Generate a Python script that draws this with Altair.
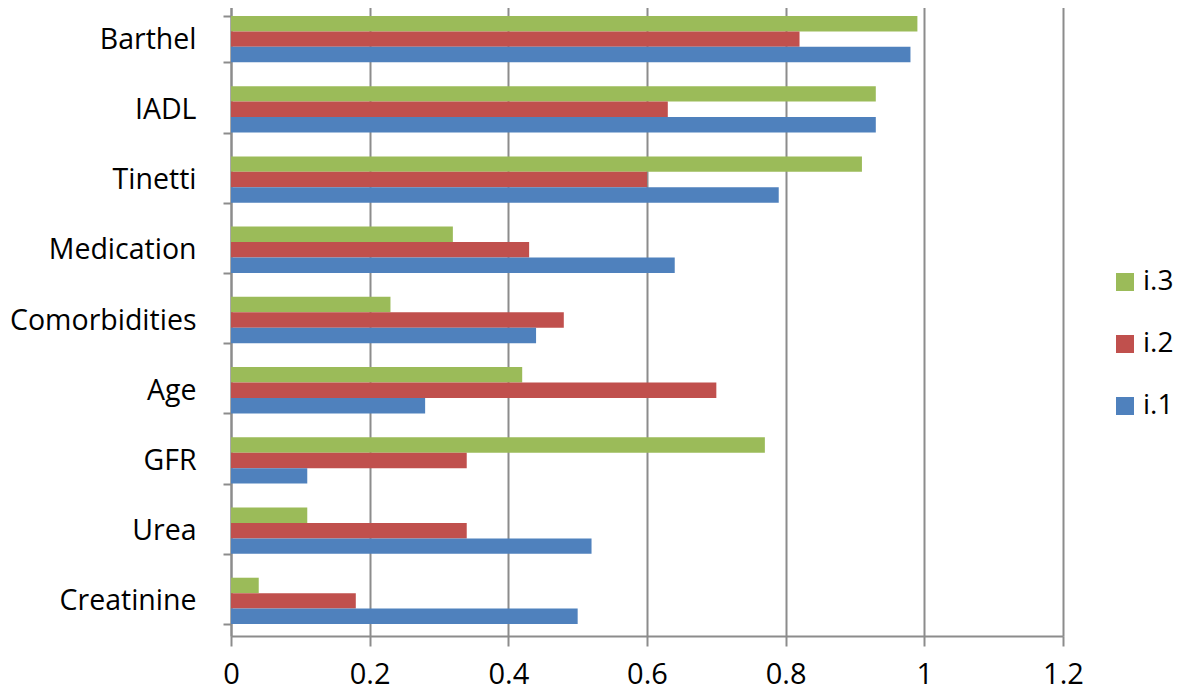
import altair as alt
import pandas as pd

categories = ["Barthel", "IADL", "Tinetti", "Medication", "Comorbidities",
              "Age", "GFR", "Urea", "Creatinine"]
series_names = ["i.3", "i.2", "i.1"]
i3 = [0.99, 0.93, 0.91, 0.32, 0.23, 0.42, 0.77, 0.11, 0.04]
i2 = [0.82, 0.63, 0.60, 0.43, 0.48, 0.70, 0.34, 0.34, 0.18]
i1 = [0.98, 0.93, 0.79, 0.64, 0.44, 0.28, 0.11, 0.52, 0.50]
colors = ["#9BBB59", "#C0504D", "#4F81BD"]
x_ticks = [0, 0.2, 0.4, 0.6, 0.8, 1, 1.2]

rows = []
for name, vals in zip(series_names, [i3, i2, i1]):
    for c, v in zip(categories, vals):
        rows.append({"cat": c, "series": name, "value": v})
df = pd.DataFrame(rows)

FONT = "Open Sans"
GRID = "#8c8c8c"

chart = alt.Chart(df).mark_bar().encode(
    x=alt.X("value:Q",
            scale=alt.Scale(domain=[0, 1.2], nice=False, zero=True),
            axis=alt.Axis(values=x_ticks, format=".1~f", title=None,
                          grid=True, gridColor=GRID, gridWidth=2,
                          domainColor=GRID, domainWidth=2,
                          tickColor=GRID, tickWidth=2, tickSize=10,
                          labelFont=FONT, labelFontSize=29, labelColor="black",
                          labelPadding=14, labelFlush=False)),
    y=alt.Y("cat:N", sort=categories,
            scale=alt.Scale(paddingInner=0.34, paddingOuter=0.17),
            axis=alt.Axis(title=None, tickBand="extent", grid=False,
                          domainColor=GRID, domainWidth=2,
                          tickColor=GRID, tickWidth=2, tickSize=8,
                          labelFont=FONT, labelFontSize=28.5, labelColor="black",
                          labelPadding=27, labelLimit=400)),
    yOffset=alt.YOffset("series:N", sort=series_names,
                        scale=alt.Scale(paddingInner=0, paddingOuter=0)),
    color=alt.Color("series:N", sort=series_names,
                    scale=alt.Scale(domain=series_names, range=colors),
                    legend=alt.Legend(title=None, orient="none",
                                      legendX=880, legendY=264,
                                      symbolType="square", symbolSize=324,
                                      symbolStrokeWidth=0,
                                      labelFont=FONT, labelFontSize=28,
                                      labelColor="black", labelOffset=4,
                                      labelLimit=200,
                                      rowPadding=34)),
).properties(
    width=832, height=632,
    autosize=alt.AutoSizeParams(type="none"),
    padding={"left": 223, "top": -4, "right": 113, "bottom": 56},
).configure_view(stroke=None)

chart.save("out.html", embed_options={"renderer": "svg", "actions": False})
